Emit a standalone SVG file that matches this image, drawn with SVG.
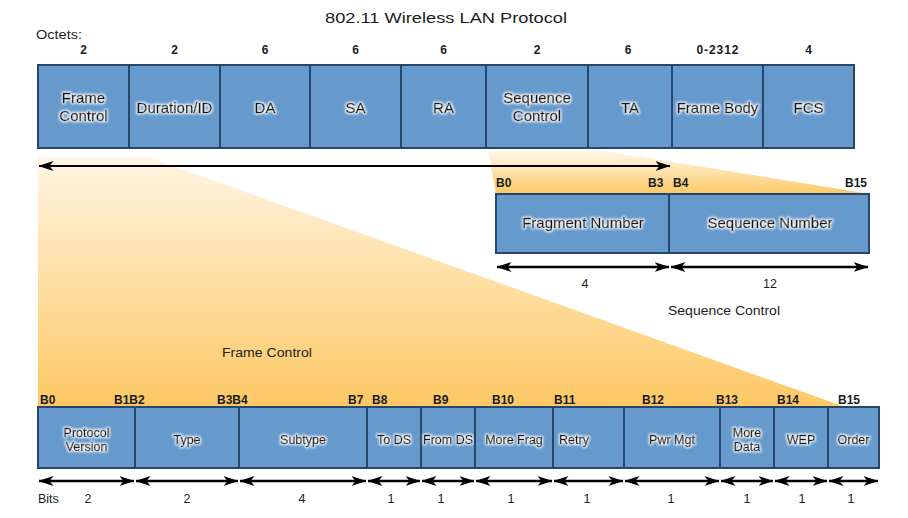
<svg xmlns="http://www.w3.org/2000/svg" width="908" height="518" viewBox="0 0 908 518">
<defs>
  <linearGradient id="fanFC" gradientUnits="userSpaceOnUse" x1="0" y1="157" x2="0" y2="407">
    <stop offset="0" stop-color="#fff5e3"/>
    <stop offset="1" stop-color="#fdc864"/>
  </linearGradient>
  <linearGradient id="fanSC" gradientUnits="userSpaceOnUse" x1="0" y1="149" x2="0" y2="194">
    <stop offset="0" stop-color="#fffaf0"/>
    <stop offset="1" stop-color="#fdc966"/>
  </linearGradient>
  <filter id="glow" x="-15%" y="-40%" width="130%" height="180%">
    <feMorphology in="SourceAlpha" operator="dilate" radius="1" result="d"/>
    <feGaussianBlur in="d" stdDeviation="0.8" result="b"/>
    <feFlood flood-color="#ffffff" flood-opacity="0.95"/>
    <feComposite in2="b" operator="in" result="g"/>
    <feMerge><feMergeNode in="g"/><feMergeNode in="SourceGraphic"/></feMerge>
  </filter>
  <marker id="ah" viewBox="0 0 15 10" refX="14.5" refY="5" markerWidth="15" markerHeight="10" markerUnits="userSpaceOnUse" orient="auto-start-reverse">
    <path d="M0,0 L15,5 L0,10 L4,5 Z" fill="#000"/>
  </marker>
  <style>
    .box { fill:#6699cc; stroke:#26466b; stroke-width:2; }
    text { font-family:"Liberation Sans", Arial, sans-serif; fill:#1c1c1c; }
    .lbl { text-anchor:middle; filter:url(#glow); fill:#141414; stroke:#141414; stroke-width:0.45; }
    .t15 { font-size:15px; }
    .t12 { font-size:12.5px; }
    .oct { font-size:12px; font-weight:bold; text-anchor:middle; }
    .bit { font-size:12px; font-weight:bold; }
    .num { font-size:12.5px; text-anchor:middle; }
    .cap { font-size:13.5px; text-anchor:middle; }
    .arr { stroke:#000; stroke-width:2.5; fill:none; marker-start:url(#ah); marker-end:url(#ah); }
  </style>
</defs>

<!-- expansion fans -->
<polygon points="38,157 148,157 845,407 38,407" fill="url(#fanFC)"/>
<polygon points="488,149 592,149 870,194 496,194" fill="url(#fanSC)"/>

<!-- headings -->
<text x="446" y="23" font-size="15" text-anchor="middle" textLength="242" lengthAdjust="spacingAndGlyphs">802.11 Wireless LAN Protocol</text>
<text x="36" y="39" font-size="12" textLength="46" lengthAdjust="spacingAndGlyphs">Octets:</text>

<!-- octet counts -->
<g id="octets">
  <text class="oct" x="83.5" y="54">2</text>
  <text class="oct" x="174.5" y="54">2</text>
  <text class="oct" x="265" y="54">6</text>
  <text class="oct" x="355.5" y="54">6</text>
  <text class="oct" x="443.5" y="54">6</text>
  <text class="oct" x="537" y="54">2</text>
  <text class="oct" x="628" y="54">6</text>
  <text class="oct" x="717.5" y="54" textLength="42" lengthAdjust="spacing">0-2312</text>
  <text class="oct" x="808.5" y="54">4</text>
</g>

<!-- top frame fields -->
<g id="f-frame-control"><rect class="box" x="38" y="65" width="91" height="83"/>
  <text class="lbl t15" x="83.5" y="102.5">Frame</text><text class="lbl t15" x="83.5" y="120.5">Control</text></g>
<g id="f-duration"><rect class="box" x="129" y="65" width="91" height="83"/>
  <text class="lbl t15" x="174.5" y="112.5">Duration/ID</text></g>
<g id="f-da"><rect class="box" x="220" y="65" width="90" height="83"/>
  <text class="lbl t15" x="265" y="112.5">DA</text></g>
<g id="f-sa"><rect class="box" x="310" y="65" width="91" height="83"/>
  <text class="lbl t15" x="355.5" y="112.5">SA</text></g>
<g id="f-ra"><rect class="box" x="401" y="65" width="85" height="83"/>
  <text class="lbl t15" x="443.5" y="112.5">RA</text></g>
<g id="f-seq-control"><rect class="box" x="486" y="65" width="102" height="83"/>
  <text class="lbl t15" x="537" y="102.5">Sequence</text><text class="lbl t15" x="537" y="120.5">Control</text></g>
<g id="f-ta"><rect class="box" x="588" y="65" width="84" height="83"/>
  <text class="lbl t15" x="630" y="112.5">TA</text></g>
<g id="f-body"><rect class="box" x="672" y="65" width="91" height="83"/>
  <text class="lbl t15" x="717.5" y="112.5">Frame Body</text></g>
<g id="f-fcs"><rect class="box" x="763" y="65" width="91" height="83"/>
  <text class="lbl t15" x="808.5" y="112.5">FCS</text></g>

<!-- sequence control detail -->
<g id="seq-bits">
  <text class="bit" x="496" y="187">B0</text>
  <text class="bit" x="648" y="187">B3</text>
  <text class="bit" x="673" y="187">B4</text>
  <text class="bit" x="845" y="187">B15</text>
</g>
<g id="s-fragment"><rect class="box" x="496" y="194" width="173" height="59"/>
  <text class="lbl t15" x="583" y="227.5">Fragment Number</text></g>
<g id="s-sequence"><rect class="box" x="669" y="194" width="200" height="59"/>
  <text class="lbl t15" x="770" y="227.5">Sequence Number</text></g>
<text class="num" x="585" y="287.5">4</text>
<text class="num" x="770" y="287.5">12</text>
<text class="cap" x="724" y="314.5" textLength="112" lengthAdjust="spacingAndGlyphs">Sequence Control</text>
<text class="cap" x="267" y="356.5" textLength="90" lengthAdjust="spacingAndGlyphs">Frame Control</text>

<!-- frame control detail -->
<g id="fc-bits">
  <text class="bit" x="40" y="404">B0</text>
  <text class="bit" x="114" y="404">B1B2</text>
  <text class="bit" x="217" y="404">B3B4</text>
  <text class="bit" x="348" y="404">B7</text>
  <text class="bit" x="372" y="404">B8</text>
  <text class="bit" x="433" y="404">B9</text>
  <text class="bit" x="492" y="404">B10</text>
  <text class="bit" x="554" y="404">B11</text>
  <text class="bit" x="642" y="404">B12</text>
  <text class="bit" x="716" y="404">B13</text>
  <text class="bit" x="777" y="404">B14</text>
  <text class="bit" x="838" y="404">B15</text>
</g>
<g id="c-protocol"><rect class="box" x="38" y="407" width="97" height="61"/>
  <text class="lbl t12" x="86.5" y="436.5">Protocol</text><text class="lbl t12" x="86.5" y="451">Version</text></g>
<g id="c-type"><rect class="box" x="135" y="407" width="104" height="61"/>
  <text class="lbl t12" x="187" y="444">Type</text></g>
<g id="c-subtype"><rect class="box" x="239" y="407" width="128" height="61"/>
  <text class="lbl t12" x="303" y="444">Subtype</text></g>
<g id="c-tods"><rect class="box" x="367" y="407" width="54" height="61"/>
  <text class="lbl t12" x="394" y="444">To DS</text></g>
<g id="c-fromds"><rect class="box" x="421" y="407" width="54" height="61"/>
  <text class="lbl t12" x="448" y="444">From DS</text></g>
<g id="c-morefrag"><rect class="box" x="475" y="407" width="78" height="61"/>
  <text class="lbl t12" x="514" y="444">More Frag</text></g>
<g id="c-retry"><rect class="box" x="553" y="407" width="71" height="61"/>
  <text class="lbl t12" x="574" y="444">Retry</text></g>
<g id="c-pwrmgt"><rect class="box" x="624" y="407" width="96" height="61"/>
  <text class="lbl t12" x="672" y="444">Pwr Mgt</text></g>
<g id="c-moredata"><rect class="box" x="720" y="407" width="54" height="61"/>
  <text class="lbl t12" x="747" y="436.5">More</text><text class="lbl t12" x="747" y="451">Data</text></g>
<g id="c-wep"><rect class="box" x="774" y="407" width="54" height="61"/>
  <text class="lbl t12" x="801" y="444">WEP</text></g>
<g id="c-order"><rect class="box" x="828" y="407" width="51" height="61"/>
  <text class="lbl t12" x="853.5" y="444">Order</text></g>

<!-- bit widths -->
<g id="bit-widths">
  <text x="38" y="503" font-size="12.5">Bits</text>
  <text class="num" x="88" y="503">2</text>
  <text class="num" x="187" y="503">2</text>
  <text class="num" x="302" y="503">4</text>
  <text class="num" x="391" y="503">1</text>
  <text class="num" x="441" y="503">1</text>
  <text class="num" x="511" y="503">1</text>
  <text class="num" x="587" y="503">1</text>
  <text class="num" x="671" y="503">1</text>
  <text class="num" x="747" y="503">1</text>
  <text class="num" x="802" y="503">1</text>
  <text class="num" x="851" y="503">1</text>
</g>

<!-- connectors -->
<g id="connectors">
  <line class="arr" x1="39" y1="166" x2="670" y2="166" style="stroke-width:2"/>
  <line class="arr" x1="497" y1="267" x2="669" y2="267"/>
  <line class="arr" x1="671" y1="267" x2="868" y2="267"/>
  <line class="arr" x1="39" y1="481" x2="134" y2="481"/>
  <line class="arr" x1="136" y1="481" x2="238" y2="481"/>
  <line class="arr" x1="240" y1="481" x2="366" y2="481"/>
  <line class="arr" x1="368" y1="481" x2="420" y2="481"/>
  <line class="arr" x1="422" y1="481" x2="474" y2="481"/>
  <line class="arr" x1="476" y1="481" x2="552" y2="481"/>
  <line class="arr" x1="554" y1="481" x2="623" y2="481"/>
  <line class="arr" x1="625" y1="481" x2="719" y2="481"/>
  <line class="arr" x1="721" y1="481" x2="773" y2="481"/>
  <line class="arr" x1="775" y1="481" x2="827" y2="481"/>
  <line class="arr" x1="829" y1="481" x2="878" y2="481"/>
</g>
</svg>
